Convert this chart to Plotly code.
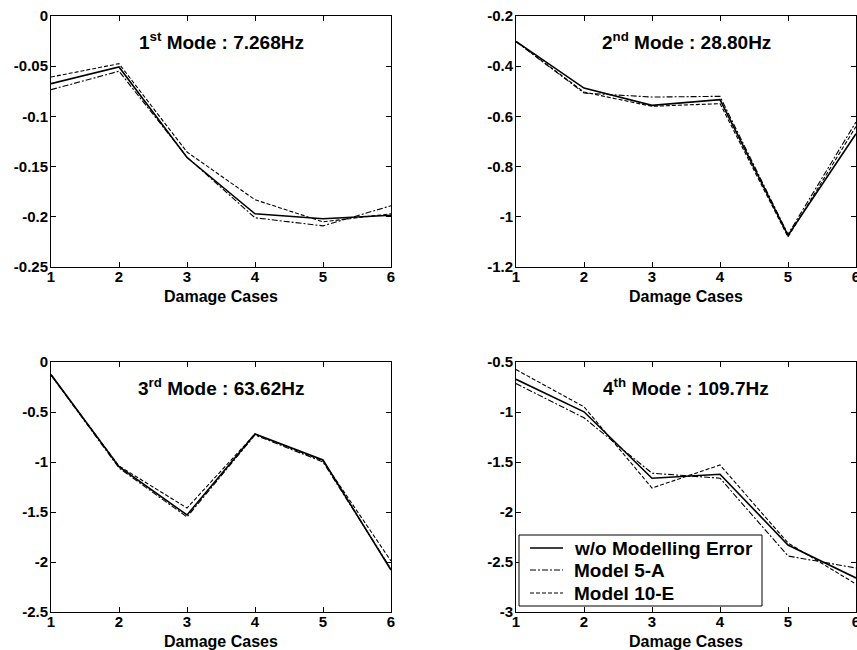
import plotly.graph_objects as go

cases = [1, 2, 3, 4, 5, 6]

# Mode 1
m1_base = [-0.0674, -0.0508, -0.141, -0.197, -0.202, -0.1985]
m1_5a = [-0.0734, -0.055, -0.1405, -0.201, -0.209, -0.189]
m1_10e = [-0.0608, -0.0475, -0.1355, -0.183, -0.205, -0.197]

# Mode 2
m2_base = [-0.301, -0.487, -0.556, -0.533, -1.074, -0.669]
m2_5a = [-0.302, -0.507, -0.523, -0.52, -1.07, -0.622]
m2_10e = [-0.302, -0.503, -0.56, -0.549, -1.08, -0.64]

# Mode 3
m3_base = [-0.126, -1.047, -1.53, -0.72, -0.98, -2.08]
m3_5a = [-0.13, -1.06, -1.55, -0.73, -1.0, -2.07]
m3_10e = [-0.13, -1.04, -1.46, -0.72, -0.99, -1.99]

# Mode 4
m4_base = [-0.673, -0.998, -1.662, -1.622, -2.33, -2.66]
m4_5a = [-0.716, -1.058, -1.612, -1.662, -2.44, -2.56]
m4_10e = [-0.576, -0.948, -1.76, -1.53, -2.31, -2.72]

titles = ["1<sup>st</sup> Mode : 7.268Hz", "2<sup>nd</sup> Mode : 28.80Hz",
          "3<sup>rd</sup> Mode : 63.62Hz", "4<sup>th</sup> Mode : 109.7Hz"]
x_title = "Damage Cases"
series_names = ["w/o Modelling Error", "Model 5-A", "Model 10-E"]

x_tickvals = [1, 2, 3, 4, 5, 6]
x_ticktext = ["1", "2", "3", "4", "5", "6"]

y1_vals = [0, -0.05, -0.1, -0.15, -0.2, -0.25]
y1_text = ["0", "-0.05", "-0.1", "-0.15", "-0.2", "-0.25"]
y2_vals = [-0.2, -0.4, -0.6, -0.8, -1.0, -1.2]
y2_text = ["-0.2", "-0.4", "-0.6", "-0.8", "-1", "-1.2"]
y3_vals = [0, -0.5, -1.0, -1.5, -2.0, -2.5]
y3_text = ["0", "-0.5", "-1", "-1.5", "-2", "-2.5"]
y4_vals = [-0.5, -1.0, -1.5, -2.0, -2.5, -3.0]
y4_text = ["-0.5", "-1", "-1.5", "-2", "-2.5", "-3"]

data = [
    (m1_base, m1_5a, m1_10e, y1_vals, y1_text, [-0.25, 0]),
    (m2_base, m2_5a, m2_10e, y2_vals, y2_text, [-1.2, -0.2]),
    (m3_base, m3_5a, m3_10e, y3_vals, y3_text, [-2.5, 0]),
    (m4_base, m4_5a, m4_10e, y4_vals, y4_text, [-3, -0.5]),
]

W, H = 857, 650
boxes = [  # left, right, top, bottom in px
    (51, 391, 16, 267),
    (516, 856, 16, 267),
    (51, 391, 362, 612),
    (516, 856, 362, 612),
]

FONT = "Liberation Sans"
fig = go.Figure()

styles = [dict(color="black", width=1.6, dash="solid"),
          dict(color="black", width=1.1, dash="6px,2px,2px,2px"),
          dict(color="black", width=1.1, dash="4px,2px")]

for i, (base, a5, e10, yv, yt, yr) in enumerate(data):
    idx = "" if i == 0 else str(i + 1)
    for j, ys in enumerate([base, a5, e10]):
        fig.add_trace(go.Scatter(
            x=cases, y=ys, mode="lines", line=styles[j],
            name=series_names[j], showlegend=False,
            xaxis="x" + idx, yaxis="y" + idx))
    l, r, t, b = boxes[i]
    axis_common = dict(showline=True, linecolor="black", linewidth=1, mirror="allticks",
                       ticks="inside", ticklen=5, tickcolor="black", showgrid=False,
                       zeroline=False, automargin=False, ticklabeloverflow="allow",
                       tickfont=dict(family=FONT, size=15, color="black", weight=700))
    fig.update_layout(**{
        "xaxis" + idx: dict(domain=[l / W, r / W], range=[1, 6], anchor="y" + idx,
                            tickvals=x_tickvals, ticktext=x_ticktext,
                            ticklabelstandoff=-4,
                            **axis_common),
        "yaxis" + idx: dict(domain=[1 - b / H, 1 - t / H], range=yr, anchor="x" + idx,
                            tickvals=yv, ticktext=yt, ticklabelstandoff=-1,
                            **axis_common),
    })
    fig.add_annotation(x=(l + r) / 2 / W, y=1 - (t + 25) / H, xref="paper", yref="paper",
                       xanchor="center", yanchor="middle",
                       text=titles[i], showarrow=False,
                       font=dict(family=FONT, size=19, color="black", weight=700))
    fig.add_annotation(x=(l + r) / 2 / W, y=1 - (b + 29) / H, xref="paper", yref="paper",
                       xanchor="center", yanchor="middle",
                       text=x_title, showarrow=False,
                       font=dict(family=FONT, size=16, color="black", weight=700))

# Legend drawn inside the 4th panel (box, sample lines, labels)
leg_l, leg_r, leg_t, leg_b = 519, 762, 535, 606
fig.add_shape(type="rect", xref="paper", yref="paper",
              x0=leg_l / W, x1=leg_r / W, y0=1 - leg_b / H, y1=1 - leg_t / H,
              line=dict(color="black", width=1), fillcolor="white", layer="above")
row_y = [548, 570, 593]
for j, name in enumerate(series_names):
    yy = 1 - row_y[j] / H
    fig.add_shape(type="line", xref="paper", yref="paper",
                  x0=530 / W, x1=563 / W, y0=yy, y1=yy, layer="above",
                  line=styles[j])
    fig.add_annotation(x=572 / W, y=yy, xref="paper", yref="paper",
                       xanchor="left", yanchor="middle", text=name, showarrow=False,
                       font=dict(family=FONT, size=19, color="black", weight=700))

fig.update_layout(
    width=W, height=H, margin=dict(l=0, r=0, t=0, b=0, autoexpand=False),
    paper_bgcolor="white", plot_bgcolor="white",
    showlegend=False,
)

fig.write_html("out.html")
